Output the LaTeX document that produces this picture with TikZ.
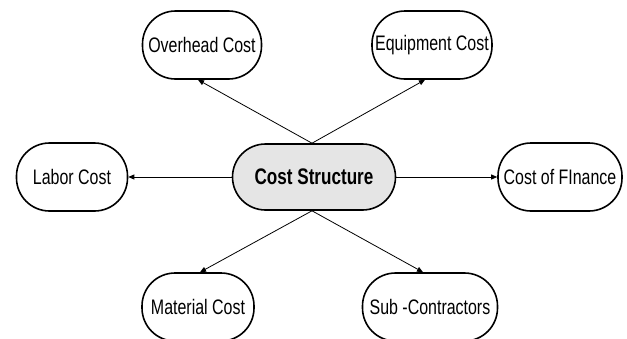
\documentclass[tikz,border=0pt]{standalone}
\usepackage{fontspec}
\setmainfont{Liberation Sans}[FakeStretch=0.76]
\usetikzlibrary{arrows.meta}
\begin{document}
\begin{tikzpicture}[x=1pt,y=-1pt,
  box/.style={draw=black,line width=1.6pt,rounded corners=33pt,inner sep=0pt,
    font=\fontsize{21}{24}\selectfont,minimum height=68pt},
  hub/.style={box,fill=black!10,font=\fontsize{22.5}{25}\selectfont\bfseries,minimum height=66pt},
  link/.style={draw=black,line width=0.8pt,-{Triangle[length=6pt,width=5pt]}}]
\useasboundingbox (0,0) rectangle (627,338);
\clip (0,0) rectangle (627,338);
\node[hub,minimum width=163pt] (cs) at (314,177) {Cost Structure};
\node[box,minimum width=119pt] (ovh) at (202,45) {Overhead Cost};
\node[box,minimum width=120pt] (eqp) at (432,45) {Equipment Cost};
\node[box,minimum width=111pt] (lab) at (72,177) {Labor Cost};
\node[box,minimum width=124pt] (fin) at (560,177) {Cost of FInance};
\node[box,minimum width=112pt] (mat) at (198,307) {Material Cost};
\node[box,minimum width=135pt] (sub) at (430,307) {Sub -Contractors};
\coordinate (top) at (cs.north -| 312,0);
\coordinate (bot) at (cs.south -| 312,0);
\draw[link] (top) -- ([xshift=-4pt]ovh.south);
\draw[link] (top) -- ([xshift=-7pt]eqp.south);
\draw[link] (cs.west) -- (lab.east);
\draw[link] (cs.east) -- (fin.west);
\draw[link] (bot) -- ([xshift=2pt]mat.north);
\draw[link] (bot) -- ([xshift=-7pt]sub.north);
\end{tikzpicture}
\end{document}
